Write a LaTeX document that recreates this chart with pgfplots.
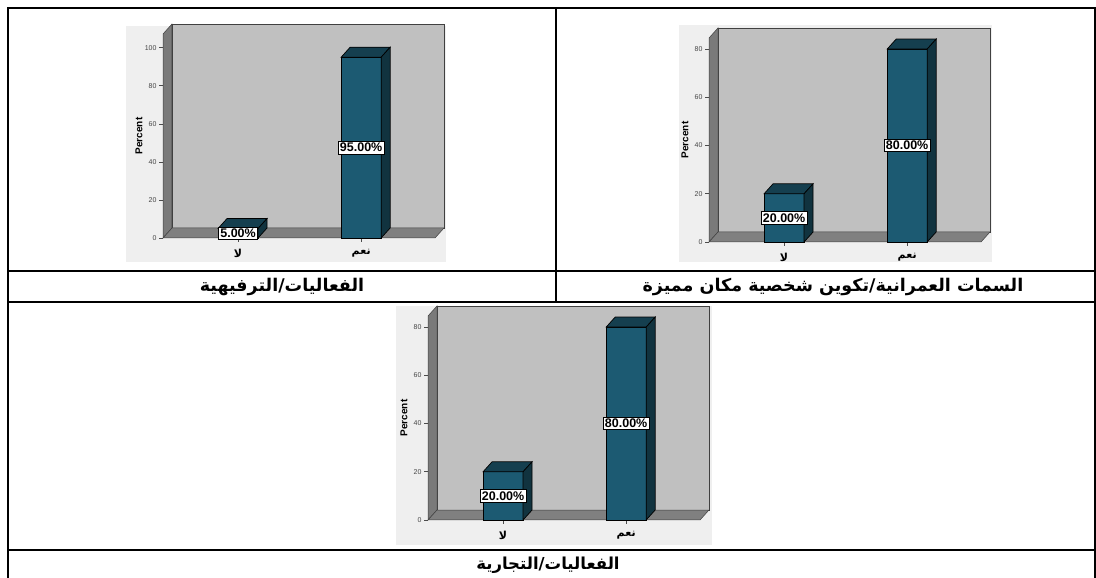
\documentclass[border=0pt]{standalone}
\usepackage{fontspec}
\setmainfont{Liberation Sans}
\newfontfamily\arabicfont[Script=Arabic]{DejaVu Sans}
\TeXXeTstate=1
\usepackage{pgfplots}
\pgfplotsset{compat=1.18}

\definecolor{barfront}{HTML}{1C5A72}
\definecolor{bartop}{HTML}{153F4F}
\definecolor{barside}{HTML}{11333F}
\definecolor{wallback}{HTML}{C0C0C0}
\definecolor{wallside}{HTML}{7A7A7A}
\definecolor{floorc}{HTML}{808080}
\definecolor{panel}{HTML}{EFEFEF}

% 3D faces of a bar: #1 centre, #2 value, #3 dx, #4 dy (axis units)
\newcommand{\barfaces}[4]{%
  \pgfmathsetmacro\xl{#1-0.1625}%
  \pgfmathsetmacro\xr{#1+0.1625}%
  \pgfmathsetmacro\xlb{#1-0.1625+#3}%
  \pgfmathsetmacro\xrb{#1+0.1625+#3}%
  \pgfmathsetmacro\yt{#2+#4}%
  \edef\doplot{%
    \noexpand\addplot[fill=bartop, draw=black, line width=0.7pt] coordinates {(\xl,#2) (\xr,#2) (\xrb,\yt) (\xlb,\yt)} -- cycle;
    \noexpand\addplot[fill=barside, draw=black, line width=0.7pt] coordinates {(\xr,0) (\xrb,#4) (\xrb,\yt) (\xr,#2)} -- cycle;}%
  \doplot}

\pgfplotsset{chart3d/.style={
  scale only axis, width=272pt, height=204pt,
  anchor=south west,
  xmin=-0.61, xmax=1.60, ymin=0,
  axis line style={draw=none},
  clip=false,
  xtick={0,1},
  xticklabels={{\arabicfont\bfseries\beginR لا\endR},{\arabicfont\bfseries\beginR نعم\endR}},
  x tick label style={font=\fontsize{11}{12}\selectfont, yshift=-4pt},
  /pgf/number format/assume math mode=true,
  y tick label style={font=\fontsize{7}{8}\selectfont, text=gray!55!black, xshift=1pt},
  xtick pos=bottom, ytick pos=left,
  tick align=outside, major tick length=4pt,
  tick style={gray!60!black, line width=0.6pt},
  ylabel={\bfseries Percent},
  every axis y label/.style={at={(axis description cs:0,0.5)}, rotate=90, anchor=center, yshift=24pt, font=\fontsize{10}{11}\selectfont},
  valuelbl/.style={draw=none, mark=none, nodes near coords, point meta=explicit symbolic,
    every node near coord/.append style={anchor=center, fill=white, draw=black, line width=0.6pt,
      inner sep=1.8pt, font=\bfseries\fontsize{12.5}{13}\selectfont, text=black}},
}}

\begin{document}
\begin{tikzpicture}[x=1pt,y=1pt]
\path[use as bounding box] (0,0) rectangle (1096,578);
\fill[white] (0,0) rectangle (1096,578);

% panels
\fill[panel] (126,316) rectangle (446,552);
\fill[panel] (679,316) rectangle (992,553);
\fill[panel] (396,33) rectangle (712,272);

% ---------- chart 1 ----------
\begin{axis}[chart3d, at={(163pt,340pt)}, ymax=107.2, ytick={0,20,40,60,80,100}]
\fill[wallback, draw=black!75, line width=0.5pt] (-0.5369,5.255) rectangle (1.6731,112.455);
\fill[wallside, draw=black!75, line width=0.5pt] (-0.61,0) -- (-0.5369,5.255) -- (-0.5369,112.455) -- (-0.61,107.2) -- cycle;
\fill[floorc, draw=black!75, line width=0.5pt] (-0.61,0) -- (1.60,0) -- (1.6731,5.255) -- (-0.5369,5.255) -- cycle;
\addplot[ybar, bar width=0.325, fill=barfront, draw=black, line width=0.7pt] coordinates {(0,5) (1,95)};
\barfaces{0}{5}{0.0731}{5.255}
\barfaces{1}{95}{0.0731}{5.255}
\addplot[valuelbl] coordinates {(0,2.5)[5.00\%] (1,47.5)[95.00\%]};
\end{axis}

% ---------- chart 2 ----------
\begin{axis}[chart3d, at={(709pt,336pt)}, ymax=84.6, ytick={0,20,40,60,80}]
\fill[wallback, draw=black!75, line width=0.5pt] (-0.5369,4.145) rectangle (1.6731,88.745);
\fill[wallside, draw=black!75, line width=0.5pt] (-0.61,0) -- (-0.5369,4.145) -- (-0.5369,88.745) -- (-0.61,84.6) -- cycle;
\fill[floorc, draw=black!75, line width=0.5pt] (-0.61,0) -- (1.60,0) -- (1.6731,4.145) -- (-0.5369,4.145) -- cycle;
\addplot[ybar, bar width=0.325, fill=barfront, draw=black, line width=0.7pt] coordinates {(0,20) (1,80)};
\barfaces{0}{20}{0.0731}{4.145}
\barfaces{1}{80}{0.0731}{4.145}
\addplot[valuelbl] coordinates {(0,10)[20.00\%] (1,40)[80.00\%]};
\end{axis}

% ---------- chart 3 ----------
\begin{axis}[chart3d, at={(428pt,58pt)}, ymax=84.6, ytick={0,20,40,60,80}]
\fill[wallback, draw=black!75, line width=0.5pt] (-0.5369,4.145) rectangle (1.6731,88.745);
\fill[wallside, draw=black!75, line width=0.5pt] (-0.61,0) -- (-0.5369,4.145) -- (-0.5369,88.745) -- (-0.61,84.6) -- cycle;
\fill[floorc, draw=black!75, line width=0.5pt] (-0.61,0) -- (1.60,0) -- (1.6731,4.145) -- (-0.5369,4.145) -- cycle;
\addplot[ybar, bar width=0.325, fill=barfront, draw=black, line width=0.7pt] coordinates {(0,20) (1,80)};
\barfaces{0}{20}{0.0731}{4.145}
\barfaces{1}{80}{0.0731}{4.145}
\addplot[valuelbl] coordinates {(0,10)[20.00\%] (1,40)[80.00\%]};
\end{axis}

% table rules
\begin{scope}[line width=2pt, line cap=rect]
\draw (8,570) -- (1095,570);
\draw (8,570) -- (8,0);
\draw (1095,570) -- (1095,0);
\draw (556,570) -- (556,276);
\draw (8,307) -- (1095,307);
\draw (8,276) -- (1095,276);
\draw (8,28) -- (1095,28);
\end{scope}

% row titles
\node[font=\arabicfont\bfseries\fontsize{17.5}{19}\selectfont] at (282,291) {\beginR الفعاليات/الترفيهية\endR};
\node[font=\arabicfont\bfseries\fontsize{17.5}{19}\selectfont] at (833,291) {\beginR السمات العمرانية/تكوين شخصية مكان مميزة\endR};
\node[font=\arabicfont\bfseries\fontsize{16.5}{18}\selectfont] at (548,13) {\beginR الفعاليات/التجارية\endR};
\end{tikzpicture}
\end{document}
